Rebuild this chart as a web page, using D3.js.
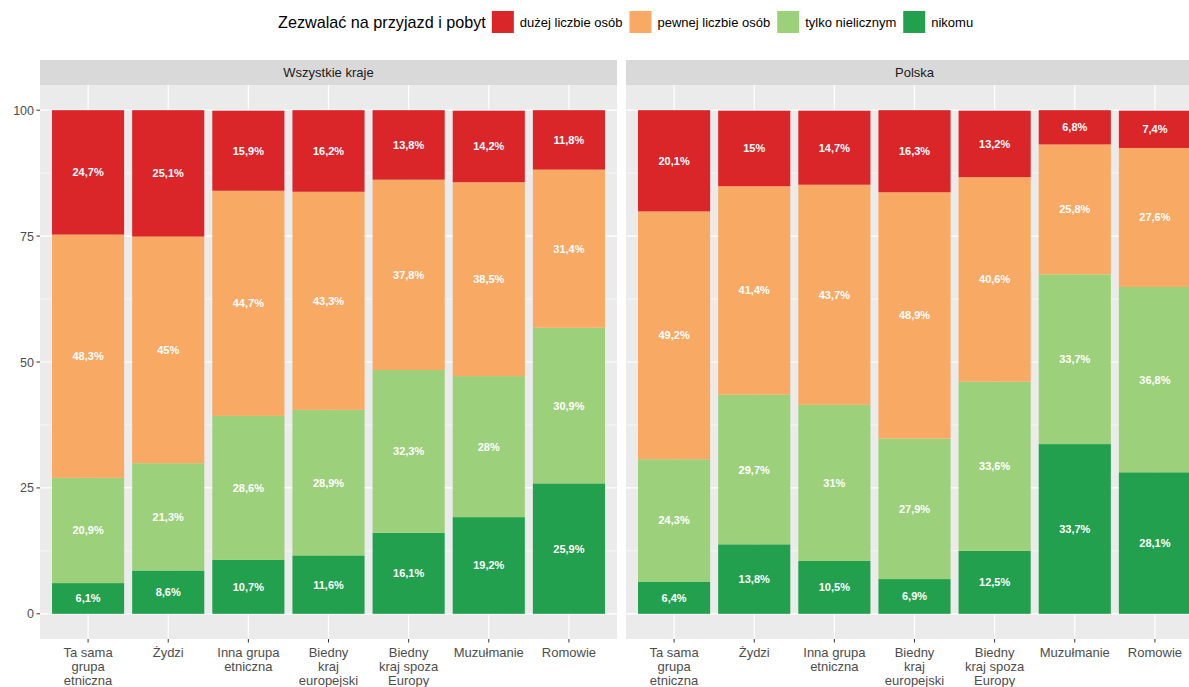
<!DOCTYPE html>
<html>
<head>
<meta charset="utf-8">
<script src="https://cdn.jsdelivr.net/npm/d3@7"></script>
<style>
  html, body { margin: 0; padding: 0; background: #fff; }
  svg { display: block; font-family: "Liberation Sans", Arial, Helvetica, sans-serif; }
</style>
</head>
<body>
<svg id="chart" width="1189" height="687"></svg>
<script>
// ---- Data ----
const facets = ["Wszystkie kraje", "Polska"];
const categories = ["Ta sama grupa etniczna", "Żydzi", "Inna grupa etniczna", "Biedny kraj europejski", "Biedny kraj spoza Europy", "Muzułmanie", "Romowie"];
const categoryLines = [["Ta sama", "grupa", "etniczna"], ["Żydzi"], ["Inna grupa", "etniczna"], ["Biedny", "kraj", "europejski"], ["Biedny", "kraj spoza", "Europy"], ["Muzułmanie"], ["Romowie"]];
const levels = ["dużej liczbie osób", "pewnej liczbie osób", "tylko nielicznym", "nikomu"];
const legendTitle = "Zezwalać na przyjazd i pobyt";
const colors = ["#da2529", "#f8a964", "#9dd07a", "#22a04e"];
const yTicks = [0, 25, 50, 75, 100];

// values per facet, per level (in levels order), per category
const allDuzej    = [24.7, 25.1, 15.9, 16.2, 13.8, 14.2, 11.8];
const allPewnej   = [48.3, 45.0, 44.7, 43.3, 37.8, 38.5, 31.4];
const allTylko    = [20.9, 21.3, 28.6, 28.9, 32.3, 28.0, 30.9];
const allNikomu   = [6.1, 8.6, 10.7, 11.6, 16.1, 19.2, 25.9];
const plDuzej     = [20.1, 15.0, 14.7, 16.3, 13.2, 6.8, 7.4];
const plPewnej    = [49.2, 41.4, 43.7, 48.9, 40.6, 25.8, 27.6];
const plTylko     = [24.3, 29.7, 31.0, 27.9, 33.6, 33.7, 36.8];
const plNikomu    = [6.4, 13.8, 10.5, 6.9, 12.5, 33.7, 28.1];

const facetValues = [
  [allDuzej, allPewnej, allTylko, allNikomu],
  [plDuzej, plPewnej, plTylko, plNikomu]
];

// ---- Layout ----
const svg = d3.select("#chart");
const panelW = 577;
const panelLefts = [40, 626];
const stripTop = 60, stripH = 25;
const panelTop = stripTop + stripH, panelBottom = 639;

const y = d3.scaleLinear().domain([-5, 105]).range([panelBottom, panelTop]);
const fmt = v => String(v).replace(".", ",") + "%";

// ---- Legend ----
const lg = svg.append("g").attr("class", "legend");
let lx = 278;
const ly = 22;
const title = lg.append("text").attr("x", lx).attr("y", ly + 5.5)
  .attr("font-size", 16.2).attr("fill", "#000").text(legendTitle);
lx += title.node().getComputedTextLength() + 6;
levels.forEach((lev, i) => {
  lg.append("rect").attr("x", lx).attr("y", ly - 11).attr("width", 22).attr("height", 22)
    .attr("fill", colors[i]);
  lx += 22 + 6;
  const t = lg.append("text").attr("x", lx).attr("y", ly + 4.5)
    .attr("font-size", 13).attr("fill", "#000").text(lev);
  lx += t.node().getComputedTextLength() + 7;
});

// ---- Panels ----
facets.forEach((facet, fi) => {
  const x0 = panelLefts[fi];
  const x = d3.scaleBand().domain(categories).range([x0, x0 + panelW])
    .paddingInner(0.1).paddingOuter(0.15);
  const g = svg.append("g");

  // strip
  g.append("rect").attr("x", x0).attr("y", stripTop).attr("width", panelW).attr("height", stripH)
    .attr("fill", "#d9d9d9");
  g.append("text").attr("x", x0 + panelW / 2).attr("y", stripTop + stripH / 2 + 4.5)
    .attr("text-anchor", "middle").attr("font-size", 13).attr("fill", "#1a1a1a").text(facet);

  // panel background
  g.append("rect").attr("x", x0).attr("y", panelTop).attr("width", panelW)
    .attr("height", panelBottom - panelTop).attr("fill", "#ebebeb");

  // minor grid
  const minor = [12.5, 37.5, 62.5, 87.5];
  g.selectAll(".minor").data(minor).join("line")
    .attr("x1", x0).attr("x2", x0 + panelW)
    .attr("y1", d => y(d)).attr("y2", d => y(d))
    .attr("stroke", "#fff").attr("stroke-width", 0.6);
  // major grid
  g.selectAll(".major").data(yTicks).join("line")
    .attr("x1", x0).attr("x2", x0 + panelW)
    .attr("y1", d => y(d)).attr("y2", d => y(d))
    .attr("stroke", "#fff").attr("stroke-width", 1.2);
  g.selectAll(".vgrid").data(categories).join("line")
    .attr("x1", d => x(d) + x.bandwidth() / 2).attr("x2", d => x(d) + x.bandwidth() / 2)
    .attr("y1", panelTop).attr("y2", panelBottom)
    .attr("stroke", "#fff").attr("stroke-width", 1.2);

  // stacked data
  const rows = categories.map((c, ci) => {
    const r = { cat: c };
    levels.forEach((l, li) => r[l] = facetValues[fi][li][ci]);
    return r;
  });
  const stackKeys = levels.slice().reverse(); // nikomu at bottom
  const series = d3.stack().keys(stackKeys)(rows);

  series.forEach(s => {
    const li = levels.indexOf(s.key);
    const sg = g.append("g");
    sg.selectAll("rect").data(s).join("rect")
      .attr("x", d => x(d.data.cat))
      .attr("width", x.bandwidth())
      .attr("y", d => y(d[1]))
      .attr("height", d => y(d[0]) - y(d[1]))
      .attr("fill", colors[li]);
    sg.selectAll("text").data(s).join("text")
      .attr("x", d => x(d.data.cat) + x.bandwidth() / 2)
      .attr("y", d => y((d[0] + d[1]) / 2) + 4)
      .attr("text-anchor", "middle")
      .attr("font-size", 11)
      .attr("font-weight", "bold")
      .attr("fill", "#ffffff")
      .text(d => fmt(d.data[s.key]));
  });

  // x axis ticks + labels
  const xa = g.append("g");
  categories.forEach((c, ci) => {
    const cx = x(c) + x.bandwidth() / 2;
    xa.append("line").attr("x1", cx).attr("x2", cx).attr("y1", panelBottom).attr("y2", panelBottom + 3.5)
      .attr("stroke", "#333").attr("stroke-width", 1);
    const t = xa.append("text").attr("text-anchor", "middle").attr("font-size", 13).attr("fill", "#4d4d4d");
    categoryLines[ci].forEach((ln, k) => {
      t.append("tspan").attr("x", cx).attr("y", 657 + k * 13.8).text(ln);
    });
  });

  // y axis only on first panel
  if (fi === 0) {
    const ya = g.append("g");
    yTicks.forEach(v => {
      ya.append("line").attr("x1", x0 - 3.5).attr("x2", x0).attr("y1", y(v)).attr("y2", y(v))
        .attr("stroke", "#333").attr("stroke-width", 1);
      ya.append("text").attr("x", x0 - 6).attr("y", y(v) + 4.5).attr("text-anchor", "end")
        .attr("font-size", 12.5).attr("fill", "#4d4d4d").text(v);
    });
  }
});
</script>
</body>
</html>
